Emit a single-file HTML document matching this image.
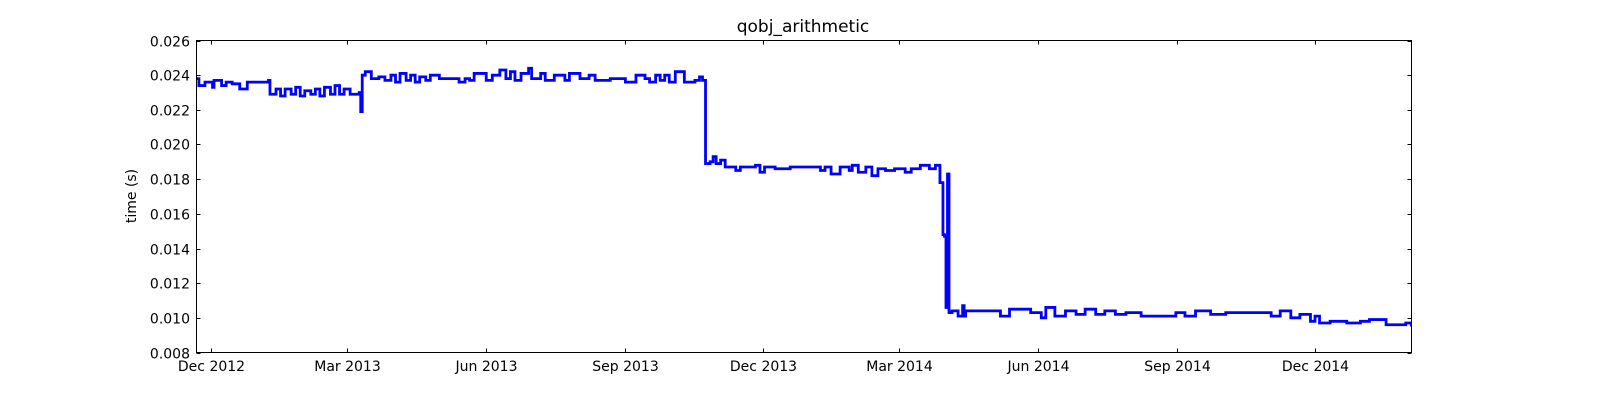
<!DOCTYPE html>
<html><head><meta charset="utf-8"><style>
html,body{margin:0;padding:0;background:#fff;}
svg text{font-family:"DejaVu Sans","Liberation Sans",sans-serif;}
</style></head><body>
<svg id="chart" width="1600" height="400" xmlns="http://www.w3.org/2000/svg">
<rect width="1600" height="400" fill="#fff"/>
<text x="803" y="32" font-size="17" text-anchor="middle">qobj_arithmetic</text>
<text x="0" y="0" font-size="14" text-anchor="middle" transform="translate(136,196) rotate(-90)">time (s)</text>
<g id="plot"></g>
<rect x="196.5" y="40.5" width="1215" height="312" fill="none" stroke="#000" stroke-width="1"/>
</svg>
<script>
// days since 1 Dec 2012
const days = [-10,-8,-4,1,2,7,10,14,19,24,38,39,43,46,49,53,56,59,62,66,69,72,75,79,82,85,88,92,98,99,100,102,106,111,115,119,122,125,129,132,135,138,142,145,151,161,164,168,171,174,182,186,191,195,198,201,205,210,212,218,221,227,234,237,244,250,254,264,274,281,287,290,294,297,300,303,307,313,320,323,325,327,330,332,334,337,340,347,350,360,363,366,373,383,400,403,406,410,416,422,424,428,433,437,441,446,452,459,463,469,475,479,482,484,485,486,487,488,490,494,497,498,499,509,522,528,542,549,552,558,565,572,578,585,591,598,605,615,628,638,644,651,661,671,681,697,701,707,714,720,727,730,733,740,751,760,766,777,790,794];
const values = [0.0238,0.0234,0.0236,0.0233,0.0237,0.0234,0.0236,0.0235,0.0232,0.0236,0.0237,0.0229,0.0232,0.0228,0.0232,0.0229,0.0233,0.0228,0.0231,0.0229,0.0232,0.0228,0.0233,0.0229,0.0234,0.0229,0.0232,0.0229,0.0230,0.0219,0.0240,0.0242,0.0238,0.0239,0.0237,0.0240,0.0236,0.0241,0.0237,0.0240,0.0236,0.0239,0.0237,0.0240,0.0238,0.0238,0.0236,0.0238,0.0237,0.0241,0.0237,0.0240,0.0243,0.0238,0.0242,0.0237,0.0241,0.0244,0.0238,0.0241,0.0237,0.0240,0.0237,0.0241,0.0238,0.0240,0.0237,0.0238,0.0236,0.0240,0.0238,0.0236,0.0240,0.0237,0.0240,0.0236,0.0242,0.0236,0.0237,0.0239,0.0237,0.0189,0.0190,0.0193,0.0189,0.0191,0.0187,0.0185,0.0187,0.0188,0.0184,0.0187,0.0186,0.0187,0.0187,0.0185,0.0187,0.0183,0.0187,0.0185,0.0188,0.0184,0.0187,0.0182,0.0186,0.0185,0.0186,0.0184,0.0186,0.0188,0.0186,0.0188,0.0178,0.0148,0.0147,0.0106,0.0183,0.0103,0.0104,0.0101,0.0107,0.0101,0.0104,0.0104,0.0101,0.0105,0.0103,0.0100,0.0106,0.0101,0.0104,0.0102,0.0105,0.0102,0.0104,0.0102,0.0103,0.0101,0.0101,0.0103,0.0101,0.0104,0.0102,0.0103,0.0103,0.0103,0.0101,0.0104,0.0100,0.0102,0.0098,0.0101,0.0097,0.0098,0.0097,0.0098,0.0099,0.0096,0.0097,0.0095];
const xTickDays = [0,90,182,274,365,455,547,639,730];
const xTickLabels = ["Dec 2012","Mar 2013","Jun 2013","Sep 2013","Dec 2013","Mar 2014","Jun 2014","Sep 2014","Dec 2014"];
const yTicks = [0.008,0.010,0.012,0.014,0.016,0.018,0.020,0.022,0.024,0.026];

const X0=196.5,X1=1411.5,Y0=352.5,Y1=40.5;
const xOrigin=211, pxPerDay=(1315-211)/730;
function xs(d){return xOrigin+d*pxPerDay;}
function ys(v){return Y0-(v-0.008)/(0.026-0.008)*(Y0-Y1);}
const NS="http://www.w3.org/2000/svg";
const g=document.getElementById('plot');
function mk(t,a){const e=document.createElementNS(NS,t);for(const k in a)e.setAttribute(k,a[k]);g.appendChild(e);return e;}

let d="";
for(let i=0;i<days.length;i++){
  const x=Math.max(X0,Math.min(X1,xs(days[i]))), y=ys(values[i]);
  if(i===0) d+="M"+x+","+y;
  else d+="H"+x+"V"+y;
}
d+="H"+X1;
const cp=mk('clipPath',{id:'clip'});
const cr=document.createElementNS(NS,'rect');cr.setAttribute('x',X0);cr.setAttribute('y',Y1);cr.setAttribute('width',X1-X0);cr.setAttribute('height',Y0-Y1);cp.appendChild(cr);
const line=mk('path',{d:d,fill:'none',stroke:'#0000ff','stroke-width':2.8,'stroke-linejoin':'miter','clip-path':'url(#clip)'});



for(let i=0;i<yTicks.length;i++){
  const y=Math.round(ys(yTicks[i]))+0.5;
  mk('line',{x1:X0,x2:X0+4,y1:y,y2:y,stroke:'#000'});
  mk('line',{x1:X1-4,x2:X1,y1:y,y2:y,stroke:'#000'});
  const t=mk('text',{x:190,y:y+5,'font-size':14,'text-anchor':'end'});
  t.textContent=yTicks[i].toFixed(3);
  
  
}
for(let i=0;i<xTickDays.length;i++){
  const x=Math.round(xs(xTickDays[i]))+0.5;
  mk('line',{x1:x,x2:x,y1:Y0,y2:Y0-4,stroke:'#000'});
  mk('line',{x1:x,x2:x,y1:Y1,y2:Y1+4,stroke:'#000'});
  const t=mk('text',{x:x,y:371,'font-size':14,'text-anchor':'middle'});
  t.textContent=xTickLabels[i];
  
  
}
</script>
</body></html>
